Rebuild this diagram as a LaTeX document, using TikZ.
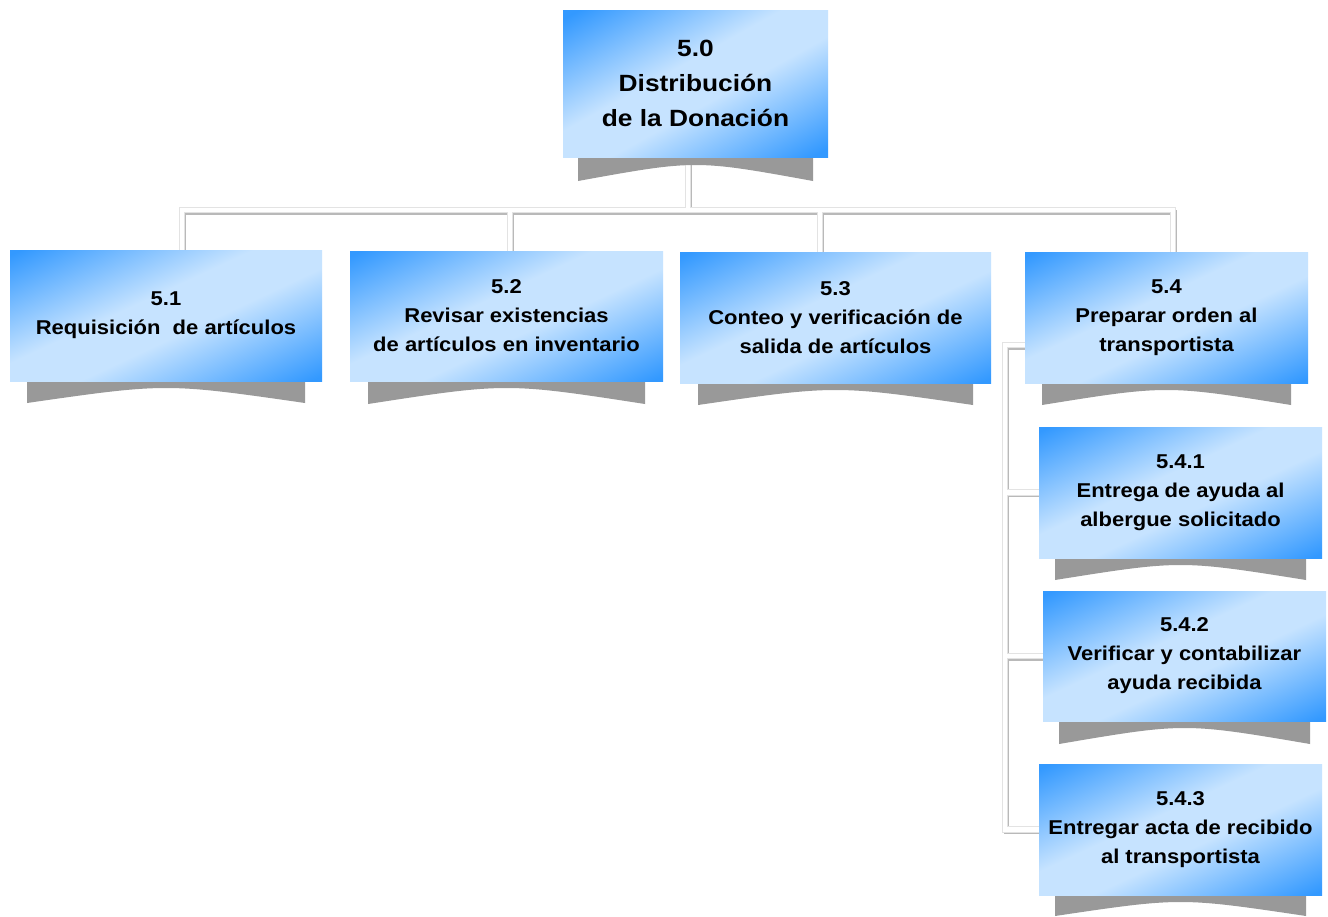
\documentclass[tikz,border=0pt]{standalone}
\usepackage{fontspec}
\setmainfont{Liberation Sans}
\newfontfamily\topfont[FakeStretch=1.12]{Liberation Sans}
\newfontfamily\smallfont[FakeStretch=1.1]{Liberation Sans}
\usetikzlibrary{calc}
\pgfdeclarelayer{background}
\pgfsetlayers{background,main}
\definecolor{bblue}{RGB}{51,153,255}
\definecolor{blight}{RGB}{198,227,255}
\definecolor{shadc}{RGB}{153,153,153}
\pgfdeclareverticalshading{boxshade}{100bp}{color(0bp)=(bblue); color(18bp)=(bblue); color(44bp)=(blight); color(56bp)=(blight); color(82bp)=(bblue); color(100bp)=(bblue)}
\tikzset{
  wbs/.style={inner sep=0pt, outer sep=0pt, shading=boxshade, shading angle=25,
    text=black, align=center,
    font=\fontsize{20}{29}\selectfont\smallfont\bfseries},
  wbstop/.style={wbs, shading angle=29, font=\fontsize{23.5}{35}\selectfont\topfont\bfseries},
  conn/.style={line width=4.5pt, draw=white,
    preaction={draw=gray!55, line width=5pt, transform canvas={shift={(1pt,-2pt)}}},
    preaction={draw=gray!22, line width=6.5pt}},
  shadowfill/.style={fill=shadc}
}
\newcommand\bshadow[4]{% node, inset, depth at corners, depth at middle
  \fill[shadowfill] ($(#1.south west)+(#2,0)$) -- ($(#1.south east)+(-#2,0)$)
    -- ($(#1.south east)+(-#2,#3)$) .. controls ($(#1.south)+(0,{(4*#4-#3)/3})$) .. ($(#1.south west)+(#2,#3)$) -- cycle;}
\begin{document}
\begin{tikzpicture}[x=1pt,y=-1pt]
\useasboundingbox (0,0) rectangle (1328,916);
% coordinates of the connector network
\coordinate (hub) at (688,210);
\coordinate (d1) at (182,210);
\coordinate (d2) at (510,210);
\coordinate (d3) at (820,210);
\coordinate (d4) at (1173,210);
\coordinate (s0) at (1005,345);
% nodes
\path (695.5,83.5) node[wbstop, minimum width=265pt, minimum height=147pt] (n50) {5.0\\Distribución\\de la Donación};
\path (166,315.5) node[wbs, minimum width=312pt, minimum height=131pt] (n51) {5.1\\Requisición\ \ de artículos};
\path (506.5,316) node[wbs, minimum width=313pt, minimum height=130pt] (n52) {5.2\\Revisar existencias\\de artículos en inventario};
\path (835.5,317.5) node[wbs, minimum width=311pt, minimum height=131pt] (n53) {5.3\\Conteo y verificación de\\salida de artículos};
\path (1166.5,317.5) node[wbs, minimum width=283pt, minimum height=131pt] (n54) {5.4\\Preparar orden al\\transportista};
\path (1180.5,492.5) node[wbs, minimum width=283pt, minimum height=131pt] (n541) {5.4.1\\Entrega de ayuda al\\albergue solicitado};
\path (1184.5,656) node[wbs, minimum width=283pt, minimum height=130pt] (n542) {5.4.2\\Verificar y contabilizar\\ayuda recibida};
\path (1180.5,829.5) node[wbs, minimum width=283pt, minimum height=131pt] (n543) {5.4.3\\Entregar acta de recibido\\al transportista};
\begin{pgfonlayer}{background}
\fill[white] (0,0) rectangle (1328,916);
% connectors
\draw[conn] (d1 |- n51.north) -- (d1) -- (d4) -- (d4 |- n54.north)
  (d2) -- (d2 |- n52.north) (d3) -- (d3 |- n53.north)
  (hub |- n50.south) -- (hub);
\draw[conn] (n54.west |- s0) -- (s0) -- (s0 |- n543.west) -- (n543.west)
  (s0 |- n541.west) -- (n541.west) (s0 |- n542.west) -- (n542.west);
% shadows
\bshadow{n50}{15}{24}{8}
\bshadow{n51}{17}{22}{7}
\bshadow{n52}{18}{23}{7}
\bshadow{n53}{18}{22}{7}
\bshadow{n54}{17}{22}{7}
\bshadow{n541}{16}{22}{7}
\bshadow{n542}{16}{23}{7}
\bshadow{n543}{16}{21}{7}
\end{pgfonlayer}
\end{tikzpicture}
\end{document}
